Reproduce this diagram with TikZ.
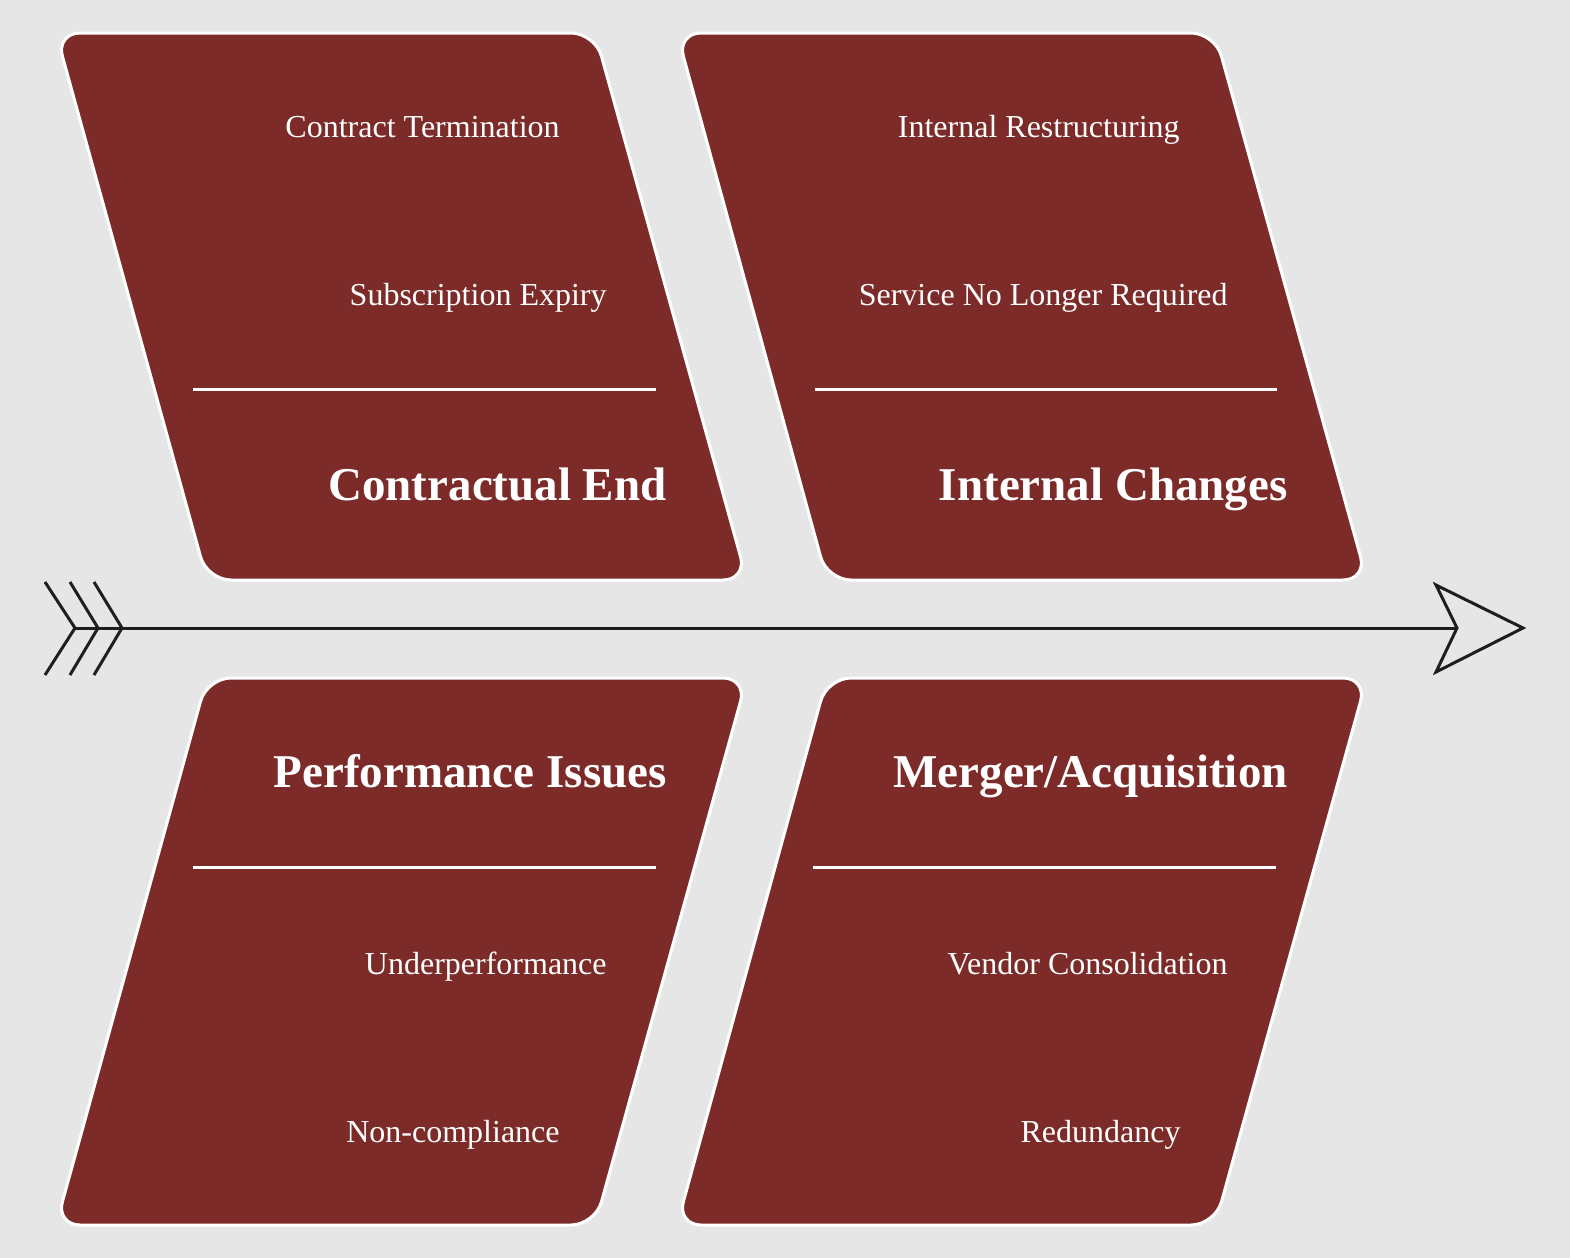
\documentclass[tikz,border=0pt]{standalone}
\usepackage{fontspec}
\setmainfont{Liberation Serif}
\definecolor{bgcol}{HTML}{E6E6E6}
\definecolor{bonecol}{HTML}{7D2B29}
\definecolor{spinecol}{HTML}{1E1E1E}
\begin{document}
\begin{tikzpicture}[x=0.5pt,y=-0.5pt,
  bone/.style={fill=bonecol,draw=white,line width=1.5pt,rounded corners=12pt},
  rule/.style={draw=white,line width=1.5pt},
  spine/.style={draw=spinecol,line width=1.5pt,line join=miter},
  item/.style={text=white,inner sep=0pt,anchor=base east,font=\fontsize{16}{19}\selectfont},
  title/.style={text=white,inner sep=0pt,anchor=base east,font=\fontsize{23.5}{28}\selectfont\bfseries}]
\fill [bgcol] (0,0) rectangle (1570,1258);
\useasboundingbox (0,0) rectangle (1570,1258);
% upper bones
\draw [bone] (56,33) -- (595,33) -- (747,580) -- (207,580) -- cycle;
\draw [bone] (677,33) -- (1215,33) -- (1367,580) -- (827,580) -- cycle;
\draw [rule] (193,389) -- (656,389);
\draw [rule] (815,389) -- (1277,389);
\node [item] (ct) at (560,137) {Contract Termination};
\node [item] (se) at (607,305) {Subscription Expiry};
\node [title] (ce) at (667,500) {Contractual End};
\node [item] (ir) at (1180,137) {Internal Restructuring};
\node [item] (snr) at (1228,305) {Service No Longer Required};
\node [title] (ic) at (1288,500) {Internal Changes};
% lower bones
\draw [bone] (207,678) -- (747,678) -- (595,1225) -- (56,1225) -- cycle;
\draw [bone] (827,678) -- (1367,678) -- (1215,1225) -- (677,1225) -- cycle;
\draw [rule] (193,867) -- (656,867);
\draw [rule] (813,867) -- (1276,867);
\node [title] (pi) at (667,787) {Performance Issues};
\node [item] (up) at (607,974) {Underperformance};
\node [item] (nc) at (560,1142) {Non-compliance};
\node [title] (ma) at (1288,787) {Merger/Acquisition};
\node [item] (vc) at (1228,974) {Vendor Consolidation};
\node [item] (rd) at (1181,1142) {Redundancy};
% spine
\coordinate (tail) at (75,628);
\coordinate (head) at (1457,628);
\draw [spine] (45,582) -- (tail) -- (45,675);
\draw [spine] (70,582) -- (98,628) -- (70,675);
\draw [spine] (94,582) -- (122,628) -- (94,675);
\draw [spine] (tail) -- (head);
\draw [spine] (1436,585) -- (1523,628) -- (1436,672) -- (head) -- cycle;
\end{tikzpicture}
\end{document}
